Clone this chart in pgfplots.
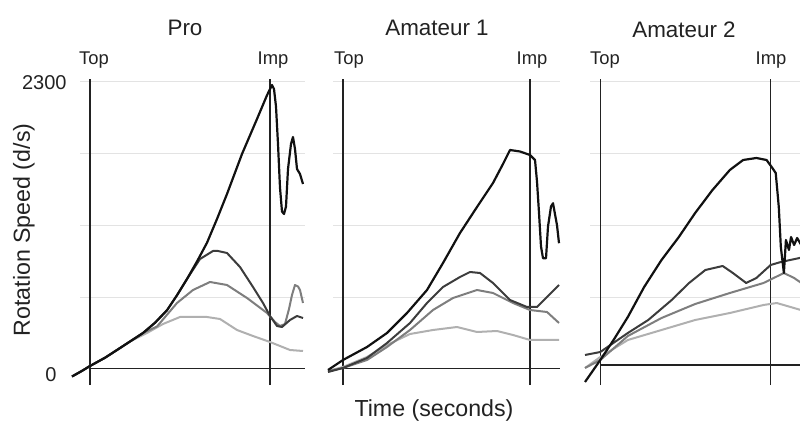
\documentclass[border=0pt]{standalone}
\usepackage{pgfplots}
\pgfplotsset{compat=1.18}
\usepackage{fontspec}
\setmainfont{Liberation Sans}
\definecolor{cA}{HTML}{111111}
\definecolor{cB}{HTML}{3C3C3C}
\definecolor{cC}{HTML}{7E7E7E}
\definecolor{cD}{HTML}{B0B0B0}
\definecolor{txt}{HTML}{222222}
\pgfplotsset{
  panel/.style={scale only axis, axis lines=none, clip=false, ymin=-160, ymax=2360,
    height=157.5pt, anchor=south west},
  grid line/.style={draw=gray!22, line width=0.6pt, forget plot},
  ref line/.style={draw=txt, line width=0.75pt, forget plot},
  sA/.style={draw=cA, line width=1.1pt, line join=round},
  sB/.style={draw=cB, line width=1.0pt, line join=round},
  sC/.style={draw=cC, line width=1.0pt, line join=round},
  sD/.style={draw=cD, line width=1.0pt, line join=round},
}
\begin{document}
\begin{tikzpicture}
\path[use as bounding box] (0,0) rectangle (400pt,212pt);
% ---------------- Pro ----------------
\begin{axis}[panel, at={(36pt,17.5pt)}, width=116.5pt, xmin=-18, xmax=215]
\addplot[grid line] coordinates {(-10,575) (215,575)};
\addplot[grid line] coordinates {(-10,1150) (215,1150)};
\addplot[grid line] coordinates {(-10,1725) (215,1725)};
\addplot[grid line] coordinates {(-10,2300) (215,2300)};
\addplot[ref line] coordinates {(0,-130) (0,2320)};
\addplot[ref line] coordinates {(180,-130) (180,2320)};
\addplot[ref line] coordinates {(0,5) (215,5)};
\addplot[sD] coordinates {(-18,-60) (-8,-15) (0,24) (15,90) (27,152) (40,220) (57,288) (73,360) (90,416) (117,416) (130,400) (147,312) (163,264) (180,216) (200,152) (213,144)};
\addplot[sC] coordinates {(-18,-60) (-8,-15) (0,24) (15,90) (27,152) (40,220) (53,288) (67,340) (87,528) (103,632) (120,696) (137,672) (157,568) (177,448) (185,376) (190,344) (195,360) (199,480) (202,592) (205,672) (208,660) (210,632) (213,528)};
\addplot[sB] coordinates {(-18,-60) (-8,-15) (0,24) (15,90) (27,152) (40,220) (53,288) (65,370) (77,470) (87,590) (97,720) (110,880) (123,944) (128,944) (137,928) (150,816) (163,656) (173,528) (180,424) (187,344) (192,336) (200,392) (207,424) (213,408)};
\addplot[sA] coordinates {(-18,-60) (-8,-15) (0,24) (15,90) (27,152) (40,220) (53,288) (65,370) (77,470) (87,590) (97,720) (107,860) (117,1010) (127,1200) (137,1400) (152,1720) (167,2000) (177,2190) (182,2272) (184,2240) (186,2100) (188,1800) (190,1450) (192,1260) (194,1240) (196,1300) (198,1600) (201,1800) (203,1856) (205,1760) (207,1600) (210,1560) (213,1480)};
\end{axis}
% ---------------- Amateur 1 ----------------
\begin{axis}[panel, at={(164pt,17.5pt)}, width=116pt, xmin=-15, xmax=217]
\addplot[grid line] coordinates {(-10,575) (217,575)};
\addplot[grid line] coordinates {(-10,1150) (217,1150)};
\addplot[grid line] coordinates {(-10,1725) (217,1725)};
\addplot[grid line] coordinates {(-10,2300) (217,2300)};
\addplot[ref line] coordinates {(0,-130) (0,2320)};
\addplot[ref line] coordinates {(187,-130) (187,2320)};
\addplot[ref line] coordinates {(0,5) (217,5)};
\addplot[sD] coordinates {(-15,-16) (0,16) (24,96) (44,192) (67,280) (90,312) (114,336) (134,296) (154,304) (170,272) (187,232) (216,232)};
\addplot[sC] coordinates {(-15,-16) (0,8) (24,72) (44,176) (67,312) (90,472) (110,568) (134,632) (150,608) (170,528) (187,472) (204,456) (216,368)};
\addplot[sB] coordinates {(-15,-24) (0,8) (24,88) (44,208) (67,368) (84,528) (100,656) (117,736) (127,776) (137,768) (150,688) (167,552) (184,496) (194,496) (204,576) (216,672)};
\addplot[sA] coordinates {(-15,-8) (0,72) (24,176) (44,288) (64,448) (84,632) (100,848) (117,1088) (134,1296) (150,1488) (160,1640) (167,1752) (177,1740) (187,1712) (192,1672) (194,1500) (196,1250) (198,980) (200,886) (203,886) (205,1140) (208,1300) (210,1326) (214,1150) (216,1006)};
\end{axis}
% ---------------- Amateur 2 ----------------
\begin{axis}[panel, at={(292.5pt,17.5pt)}, width=117.5pt, xmin=-15, xmax=220]
\addplot[grid line] coordinates {(-10,575) (220,575)};
\addplot[grid line] coordinates {(-10,1150) (220,1150)};
\addplot[grid line] coordinates {(-10,1725) (220,1725)};
\addplot[grid line] coordinates {(-10,2300) (220,2300)};
\addplot[ref line] coordinates {(0,-130) (0,2320)};
\addplot[ref line] coordinates {(167,-130) (167,2320)};
\addplot[ref line] coordinates {(0,30) (220,30)};
\addplot[sD] coordinates {(-15,8) (0,96) (27,232) (60,312) (93,392) (127,448) (160,512) (173,528) (200,464) (215,440)};
\addplot[sC] coordinates {(-15,8) (0,72) (27,264) (60,408) (93,520) (127,608) (160,688) (180,768) (190,728) (200,672) (215,640)};
\addplot[sB] coordinates {(-15,112) (0,136) (27,288) (47,392) (70,552) (87,688) (103,792) (120,824) (130,768) (143,688) (153,728) (167,832) (177,856) (200,896) (215,912)};
\addplot[sA] coordinates {(-15,-104) (0,72) (13,232) (27,416) (43,656) (60,872) (77,1056) (93,1248) (110,1432) (127,1592) (140,1672) (153,1688) (163,1672) (168,1616) (172,1568) (175,1296) (177,976) (180,768) (182,1032) (185,952) (187,1056) (190,992) (193,1048) (197,992) (200,1032) (205,1032) (210,960) (215,1000)};
\end{axis}
% ---------------- texts ----------------
\begin{scope}[every node/.style={text=txt, inner sep=0pt}]
\node[font=\fontsize{11.2}{13}\selectfont] at (92.5pt,198pt) {Pro};
\node[font=\fontsize{11.2}{13}\selectfont] at (218.5pt,198pt) {Amateur 1};
\node[font=\fontsize{11.2}{13}\selectfont] at (342pt,197pt) {Amateur 2};
\foreach \x/\t in {47/Top, 136.5/Imp, 174.5/Top, 266/Imp, 302.5/Top, 385.5/Imp}
  \node[font=\fontsize{9.2}{11}\selectfont] at (\x pt,182pt) {\t};
\node[font=\fontsize{10}{12}\selectfont, anchor=east] at (33.5pt,170.5pt) {2300};
\node[font=\fontsize{10}{12}\selectfont, anchor=east] at (28.5pt,24.5pt) {0};
\node[font=\fontsize{11.6}{13}\selectfont, rotate=90] at (12pt,97pt) {Rotation Speed (d/s)};
\node[font=\fontsize{11.6}{13}\selectfont] at (217pt,7pt) {Time (seconds)};
\end{scope}
\end{tikzpicture}
\end{document}
